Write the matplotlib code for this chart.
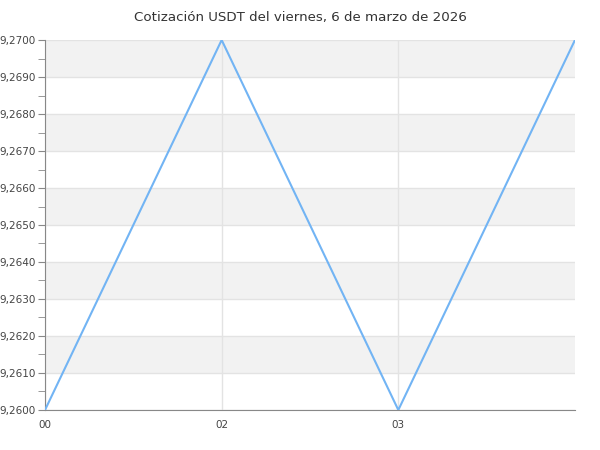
import matplotlib
matplotlib.use('Agg')
import matplotlib.pyplot as plt
from matplotlib.ticker import MultipleLocator, FuncFormatter

# datos de la cotizacion
horas = ['00', '02', '03', '']
valores = [9.2600, 9.2700, 9.2600, 9.2700]
titulo = 'Cotización USDT del viernes, 6 de marzo de 2026'

fig = plt.figure(figsize=(6, 4.5), dpi=100)
ax = fig.add_axes([0.075, 0.0889, 0.8833, 0.8222])

x = list(range(len(valores)))
ax.set_xlim(0, len(valores) - 1)
ax.set_ylim(9.26, 9.27)

# bandas alternas
ymin, ymax = ax.get_ylim()
paso = 0.001
y = ymin + paso
while y < ymax - 1e-9:
    ax.axhspan(y, y + paso, color='#f2f2f2', zorder=0, lw=0)
    y += 2 * paso

ax.plot(x, valores, color='#72b4f4', lw=1.5, zorder=3, solid_joinstyle='miter')

ax.yaxis.set_major_locator(MultipleLocator(0.001))
ax.yaxis.set_minor_locator(MultipleLocator(0.0005))
ax.yaxis.set_major_formatter(FuncFormatter(lambda v, p: f'{v:.4f}'.replace('.', ',')))
ax.set_xticks(x[:3])
ax.set_xticklabels(horas[:3])

ax.grid(True, which='major', color='#e3e3e3', lw=1, zorder=1)
ax.set_axisbelow(True)

for s in ['top', 'right']:
    ax.spines[s].set_visible(False)
ax.spines['left'].set_color('#888888')
ax.spines['bottom'].set_color('#888888')

ax.tick_params(axis='y', which='both', length=5, color='#888888', labelsize=7.5,
               labelcolor='#444444', pad=1.5)
ax.tick_params(axis='x', length=0, labelsize=7.5, labelcolor='#444444', pad=7)

fig.text(0.5, 0.975, titulo, ha='center', va='top', fontsize=9.6, color='#333333')

fig.savefig('out.png', dpi=100)
